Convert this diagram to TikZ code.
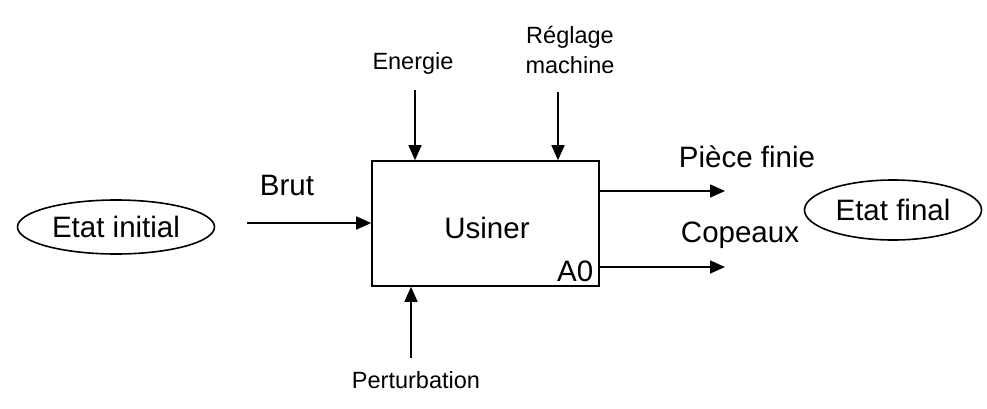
\documentclass[tikz,border=0pt]{standalone}
\usepackage{fontspec}
\setmainfont{Liberation Sans}
\usetikzlibrary{shapes,arrows.meta,calc}

\begin{document}
\begin{tikzpicture}[%
    x=1pt, y=-1pt,                 % work in pixel units, top-down
    >={Triangle[length=15pt,width=13pt]},
    line width=1.6pt
    ]
% -------------------------------------------------
% box, ellipse and label styles
\tikzset{
  func/.style={draw, rectangle, minimum width=227pt, minimum height=125pt,
    inner sep=0pt},
  etat/.style={draw, ellipse, inner sep=0pt, font=\fontsize{29.5}{34}\selectfont},
  big/.style={font=\fontsize{29.5}{34}\selectfont, inner sep=0pt},
  lbl/.style={font=\fontsize{23.5}{30}\selectfont, inner sep=0pt, align=center},
  flow/.style={->, draw}
}
\useasboundingbox (0,0) rectangle (987,409);
% -------------------------------------------------
% the activity box and the two states
\node [func] (usiner) at (485.5,223.5) {};
\node [big, anchor=base] (txt) at (487,238) {Usiner};
\node [big, anchor=base east] (a0) at (594,281) {A0};
\node [etat, minimum width=197pt, minimum height=54pt] (init) at (116,227) {Etat initial};
\node [etat, minimum width=177pt, minimum height=60pt] (fin) at (893,210) {Etat final};

% -------------------------------------------------
% free ends of the connectors
\coordinate (brut) at (247,223);
\coordinate (ener) at (415,90);
\coordinate (regl) at (558,92);
\coordinate (pert) at (411,358);
\coordinate (piece) at (725,191);
\coordinate (cop) at (725,267);

% labels
\node [big, anchor=base] (lbrut) at (287,195) {Brut};
\node [big, anchor=base] (lpiece) at (747,167) {Pièce finie};
\node [big, anchor=base] (lcop) at (740,242) {Copeaux};
\node [lbl, anchor=base] (lener) at (413,70) {Energie};
\node [lbl] (lregl) at (570,50) {Réglage\\machine};
\node [lbl, anchor=base] (lpert) at (416,388) {Perturbation};

% -------------------------------------------------
% inputs, controls, mechanism and outputs
\draw [flow] (brut) -- (brut -| usiner.west);
\draw [flow] (ener) -- (ener |- usiner.north);
\draw [flow] (regl) -- (regl |- usiner.north);
\draw [flow] (pert) -- (pert |- usiner.south);
\draw [flow] (piece -| usiner.east) -- (piece);
\draw [flow] (cop -| usiner.east) -- (cop);
\end{tikzpicture}
\end{document}
